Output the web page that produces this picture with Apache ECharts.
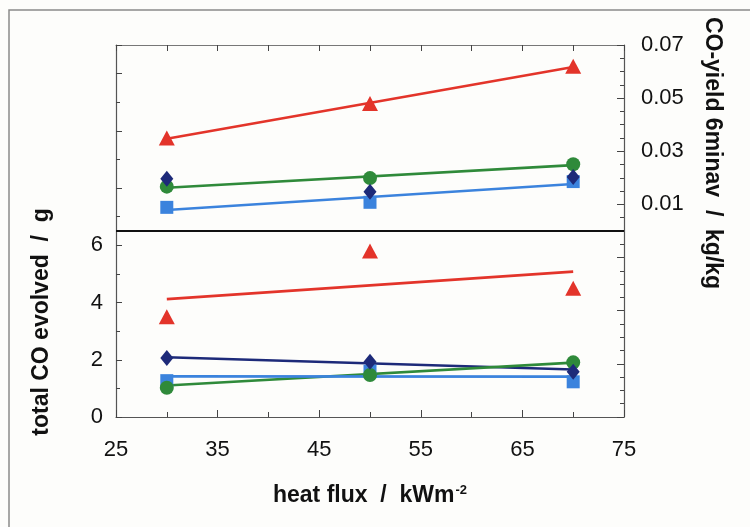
<!DOCTYPE html>
<html>
<head>
<meta charset="utf-8">
<script src="https://cdn.jsdelivr.net/npm/echarts@6/dist/echarts.min.js"></script>
<style>
  html, body { margin: 0; padding: 0; background: #fdfdfb; }
  #chart { width: 750px; height: 527px; }
</style>
</head>
<body>
<div id="chart"></div>
<script>
// Heat flux levels (kW/m²) and the two ends of the fitted trend lines
const heatFlux = [30, 50, 70];
const trendEnds = [30, 70];

// Upper panel: CO-yield averaged over 6 min (kg/kg), right axis
const redYield = [0.0350, 0.0480, 0.0620];
const redYieldTrend = [0.0347, 0.0617];
const greenYield = [0.0167, 0.0199, 0.0251];
const greenYieldTrend = [0.0163, 0.0248];
const navyYield = [0.0197, 0.0148, 0.0203];
const blueYield = [0.0089, 0.0108, 0.0186];
const blueYieldTrend = [0.0079, 0.0177];

// Lower panel: total CO evolved (g), left axis
const redTotal = [3.50, 5.80, 4.50];
const redTotalTrend = [4.12, 5.08];
const navyTotal = [2.06, 1.93, 1.58];
const navyTotalTrend = [2.09, 1.66];
const greenTotal = [1.02, 1.47, 1.91];
const greenTotalTrend = [1.10, 1.90];
const blueTotal = [1.27, 1.60, 1.23];
const blueTotalTrend = [1.42, 1.41];

// Axis ranges and the level of the line separating the panels
const xRange = [25, 75];
const totalRange = [0, 13];
const totalLabelMax = 6;
const yieldRange = [-0.07, 0.07];
const panelSplit = 6.5;

const RED = '#e3342a', GREEN = '#2f8a3a', NAVY = '#1d2a79', BLUE = '#3b83dd';
const FONT = '"Liberation Sans", Arial, sans-serif';

const pairs = (xs, ys) => xs.map((x, i) => [x, ys[i]]);

function trend(data, color, yAxisIndex) {
  return {
    type: 'line', data: pairs(trendEnds, data), yAxisIndex,
    symbol: 'none', silent: true, z: 2,
    lineStyle: { color, width: 2.6 }
  };
}
function points(data, color, symbol, size, yAxisIndex) {
  return {
    type: 'scatter', data: pairs(heatFlux, data), yAxisIndex,
    symbol, symbolSize: size, z: 3,
    itemStyle: { color, opacity: 1 }
  };
}

const tickLabel = { color: '#111', fontSize: 22, fontFamily: FONT };
const axisLine = { show: true, onZero: false, lineStyle: { color: '#555', width: 1.2 } };

const chart = echarts.init(document.getElementById('chart'));
chart.setOption({
  backgroundColor: '#fdfdfb',
  animation: false,
  grid: { left: 116, right: 126, top: 45, bottom: 110, show: false },
  xAxis: [
    {
      type: 'value', min: xRange[0], max: xRange[1], interval: 10, position: 'bottom',
      axisLine, splitLine: { show: false },
      axisTick: { inside: true, length: 7, lineStyle: { color: '#444' } },
      minorTick: { show: true, splitNumber: 2, length: 5, lineStyle: { color: '#444' } },
      axisLabel: Object.assign({ margin: 22 }, tickLabel)
    },
    {
      type: 'value', min: xRange[0], max: xRange[1], interval: 5, position: 'top',
      axisLine: { show: true, onZero: false, lineStyle: { color: '#777', width: 1 } },
      splitLine: { show: false },
      axisTick: { inside: true, length: 6, lineStyle: { color: '#444' } },
      axisLabel: { show: false }
    }
  ],
  yAxis: [
    {
      type: 'value', min: totalRange[0], max: totalRange[1], interval: 2, position: 'left',
      axisLine, splitLine: { show: false },
      axisTick: { inside: true, length: 6, lineStyle: { color: '#444' } },
      minorTick: { show: true, splitNumber: 2, length: 4, lineStyle: { color: '#444' } },
      axisLabel: Object.assign({
        margin: 13,
        formatter: v => (v <= totalLabelMax ? String(v) : '')
      }, tickLabel)
    },
    {
      type: 'value', min: yieldRange[0], max: yieldRange[1], interval: 0.02, position: 'right',
      axisLine, splitLine: { show: false },
      axisTick: { inside: true, length: 7, lineStyle: { color: '#444' } },
      minorTick: { show: true, splitNumber: 4, length: 4, lineStyle: { color: '#444' } },
      axisLabel: Object.assign({
        margin: 17,
        formatter: v => (v > 0.001 ? v.toFixed(2) : '')
      }, tickLabel)
    }
  ],
  series: [
    // upper panel
    trend(redYieldTrend, RED, 1),
    trend(greenYieldTrend, GREEN, 1),
    trend(blueYieldTrend, BLUE, 1),
    points(blueYield, BLUE, 'rect', 13, 1),
    points(greenYield, GREEN, 'circle', 14, 1),
    points(navyYield, NAVY, 'diamond', [13, 16], 1),
    points(redYield, RED, 'triangle', [16, 15], 1),
    // lower panel
    Object.assign(trend(redTotalTrend, RED, 0), {
      markLine: {
        silent: true, symbol: 'none', label: { show: false },
        lineStyle: { color: '#111', width: 2, type: 'solid' },
        data: [{ yAxis: panelSplit }]
      }
    }),
    trend(navyTotalTrend, NAVY, 0),
    trend(greenTotalTrend, GREEN, 0),
    trend(blueTotalTrend, BLUE, 0),
    points(blueTotal, BLUE, 'rect', 13, 0),
    points(greenTotal, GREEN, 'circle', 14, 0),
    points(navyTotal, NAVY, 'diamond', [13, 16], 0),
    points(redTotal, RED, 'triangle', [16, 15], 0)
  ],
  graphic: [
    {
      type: 'rect', silent: true, z: -1,
      shape: { x: 9, y: 10, width: 760, height: 540 },
      style: { fill: null, stroke: '#8a8a8a', lineWidth: 1.5 }
    },
    {
      type: 'text', x: 42, y: 322, rotation: Math.PI / 2,
      style: {
        text: 'total CO evolved  /  g', fill: '#111',
        font: 'bold 23px ' + FONT, align: 'center', verticalAlign: 'middle'
      }
    },
    {
      type: 'text', x: 712, y: 153, rotation: -Math.PI / 2,
      style: {
        text: 'CO-yield 6minav  /  kg/kg', fill: '#111',
        font: 'bold 23px ' + FONT, align: 'center', verticalAlign: 'middle'
      }
    },
    {
      type: 'text', x: 370, y: 496,
      style: {
        text: '{b|heat flux  /  kWm}{s|-2}', fill: '#111',
        align: 'center', verticalAlign: 'middle',
        rich: {
          b: { fontSize: 23, fontWeight: 'bold', fontFamily: FONT, fill: '#111' },
          s: { fontSize: 13, fontWeight: 'bold', fontFamily: FONT, fill: '#111',
               verticalAlign: 'top', padding: [0, 0, 12, 1] }
        }
      }
    }
  ]
});
</script>
</body>
</html>
